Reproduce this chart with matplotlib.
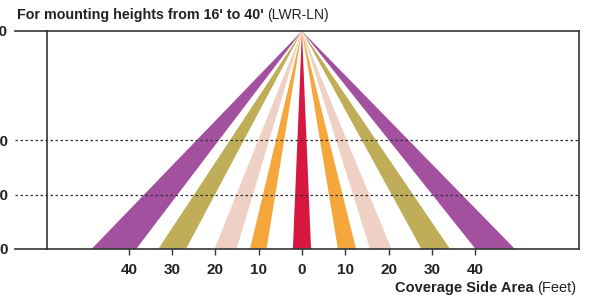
import matplotlib
matplotlib.use("Agg")
from matplotlib import pyplot as plt

# beam footprints at floor level (feet from fixture, left/right edge)
beam_colors = ['#a3509e', '#bfad57', '#efd0c4', '#f5a73c', '#d7173f']
left_beams = [(-48.6, -38.3), (-33.2, -26.8), (-20.2, -15.1), (-12.0, -8.2)]
right_beams = [(40.1, 49.2), (27.6, 34.2), (15.7, 20.7), (8.3, 12.5)]
center_beam = (-2.1, 2.1)
mount_height = 40

x_ticks = [-40, -30, -20, -10, 0, 10, 20, 30, 40]
x_labels = ['40', '30', '20', '10', '0', '10', '20', '30', '40']
y_ticks = [0, 10, 20, 40]
y_labels = ['0', '10', '20', '40']
dotted_levels = [10, 20]

plt.rcParams['font.family'] = ['Liberation Sans', 'DejaVu Sans']

fig = plt.figure(figsize=(5.95, 2.96), dpi=100)
ax = fig.add_axes([47 / 595, 47 / 296, 532 / 595, 218 / 296])

apex = (0, mount_height)
for (l, r), c in zip(left_beams, beam_colors[:4]):
    ax.fill([apex[0], l, r], [apex[1], 0, 0], color=c, lw=0)
for (l, r), c in zip(right_beams, beam_colors[:4]):
    ax.fill([apex[0], l, r], [apex[1], 0, 0], color=c, lw=0)
ax.fill([apex[0], center_beam[0], center_beam[1]], [apex[1], 0, 0], color=beam_colors[4], lw=0)

ax.set_xlim(-58.9, 64)
ax.set_ylim(0, mount_height)

# horizontal reference lines, running out past the left spine
trans = ax.get_yaxis_transform()
for lv in dotted_levels:
    ax.plot([-0.06, 1], [lv, lv], transform=trans, color='#333333', lw=0.9,
            ls=(0, (2, 2)), clip_on=False)
for lv in [0, mount_height]:
    ax.plot([-0.06, 0], [lv, lv], transform=trans, color='#333333', lw=1.2,
            clip_on=False)

for s in ax.spines.values():
    s.set_color('#333333')
    s.set_linewidth(1.2)

ax.set_xticks(x_ticks, x_labels, fontsize=11, fontweight='bold', color='#222222')
ax.tick_params(axis='x', length=4, width=1, color='#333333', pad=6)
# y labels sit past the left edge of the picture, as in the cropped original
ax.set_yticks(y_ticks, y_labels, fontsize=11, fontweight='bold', color='#222222')
ax.tick_params(axis='y', length=0, pad=28)

fig.canvas.draw()
ypos = 1 - 288 / 296
t2 = fig.text(576 / 595, ypos, '(Feet)', fontsize=10.5, color='#222222',
              va='center', ha='right')
fig.canvas.draw()
bb2 = t2.get_window_extent()
fig.text(bb2.x0 / fig.bbox.width - 0.006, ypos, 'Coverage Side Area', fontsize=10.5,
         fontweight='bold', color='#222222', va='center', ha='right')

t = fig.text(17 / 595, 1 - 15 / 296, "For mounting heights from 16' to 40'",
             fontsize=10.3, fontweight='bold', color='#222222', va='center')
fig.canvas.draw()
bb = t.get_window_extent()
fig.text(bb.x1 / fig.bbox.width + 0.005, 1 - 15 / 296, '(LWR-LN)', fontsize=10,
         color='#222222', va='center')

fig.savefig('out.png', dpi=100)
